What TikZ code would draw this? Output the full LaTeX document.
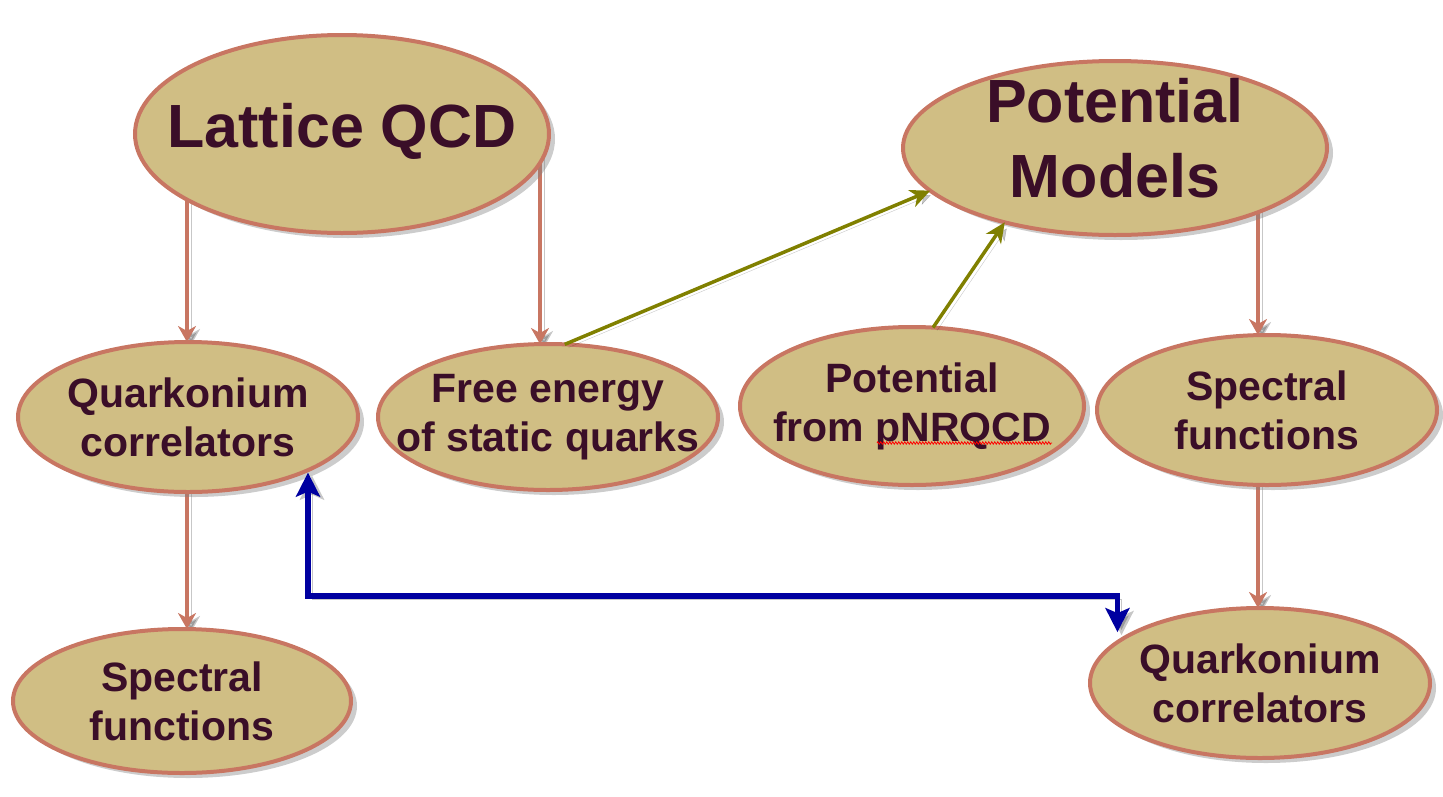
\documentclass[tikz,border=0pt]{standalone}
\usepackage{fontspec}
\setmainfont{Liberation Sans}
\usetikzlibrary{shapes.geometric,arrows.meta,shadows,decorations.pathmorphing}
\definecolor{bubblefill}{HTML}{D0BE84}
\definecolor{bubbleline}{HTML}{C87662}
\definecolor{txtcol}{HTML}{3A0E28}
\definecolor{olivearr}{HTML}{808000}
\definecolor{bluearr}{HTML}{0000A0}
\pgfdeclarelayer{bg}
\pgfsetlayers{bg,main}
\tikzset{
  bubble/.style={ellipse, draw=bubbleline, line width=4pt, fill=bubblefill, inner sep=0pt, outer sep=0pt,
    drop shadow={opacity=0.4, shadow xshift=6pt, shadow yshift=-5pt}},
  bigtxt/.style={text=txtcol, font=\bfseries\fontsize{61}{75}\selectfont, align=center},
  smalltxt/.style={text=txtcol, font=\bfseries\fontsize{41}{49}\selectfont, align=center},
  lineshadow/.style={preaction={draw=black, opacity=0.22, transform canvas={xshift=4pt,yshift=-3pt}}},
  salarrow/.style={draw=bubbleline, line width=3.2pt, lineshadow, -{Stealth[length=16pt,width=18pt,inset=5pt]}},
  olivearrow/.style={draw=olivearr, line width=3.5pt, lineshadow, -{Stealth[length=20pt,width=18pt,inset=6pt]}},
  bluearrow/.style={draw=bluearr, line width=5.5pt, lineshadow, {Stealth[length=24pt,width=24pt,inset=5pt]}-{Stealth[length=24pt,width=24pt,inset=5pt]}},
}
\begin{document}
\begin{tikzpicture}[x=1pt,y=-1pt]
\useasboundingbox (0,0) rectangle (1443,796);

\node[bubble, minimum width=414pt, minimum height=198pt, label={[bigtxt,yshift=3pt]center:Lattice QCD}] (lqcd) at (342,134) {};
\node[bubble, minimum width=424pt, minimum height=174pt, label={[bigtxt,yshift=10pt]center:Potential\\Models}] (pm) at (1115,148) {};
\node[bubble, minimum width=340pt, minimum height=150pt, label={[smalltxt]center:Quarkonium\\correlators}] (qcl) at (188,417) {};
\node[bubble, minimum width=340pt, minimum height=146pt, label={[smalltxt]center:Free energy\\of static quarks}] (fe) at (548,417) {};
\node[bubble, minimum width=344pt, minimum height=158pt, label={[smalltxt]center:Potential\\from pNRQCD}] (pn) at (912,406) {};
\node[bubble, minimum width=340pt, minimum height=150pt, label={[smalltxt]center:Spectral\\functions}] (spr) at (1267,410) {};
\node[bubble, minimum width=338pt, minimum height=144pt, label={[smalltxt]center:Spectral\\functions}] (spl) at (182,701) {};
\node[bubble, minimum width=340pt, minimum height=150pt, label={[smalltxt]center:Quarkonium\\correlators}] (qcr) at (1260,683) {};

% spell-check squiggle under pNRQCD
\draw[red, line width=0.8pt, decorate, decoration={zigzag, segment length=3pt, amplitude=1.2pt}] (877,443) -- (1052,443);

\begin{pgfonlayer}{bg}
\draw[salarrow] ([xshift=-1pt]lqcd.center -| qcl.north) -- ([xshift=-1pt]qcl.north);
\draw[salarrow] ([xshift=-8pt]lqcd.center -| fe.north) -- ([xshift=-8pt]fe.north);
\draw[salarrow] ([xshift=-9pt]pm.center -| spr.north) -- ([xshift=-9pt]spr.north);
\draw[salarrow] ([xshift=-9pt]spr.center -| spr.south) -- ([xshift=-2pt]qcr.north);
\draw[salarrow] ([xshift=5pt]qcl.center -| spl.north) -- ([xshift=5pt]spl.north);
\end{pgfonlayer}

\draw[olivearrow] (fe.77) -- (pm.193);
\draw[olivearrow] (pn.75) -- (pm.214);

\coordinate (bend) at (308,596);
\draw[bluearrow] (bend |- qcl.-26) -- (bend) -| ([yshift=10pt]qcr.164);
\end{tikzpicture}
\end{document}
